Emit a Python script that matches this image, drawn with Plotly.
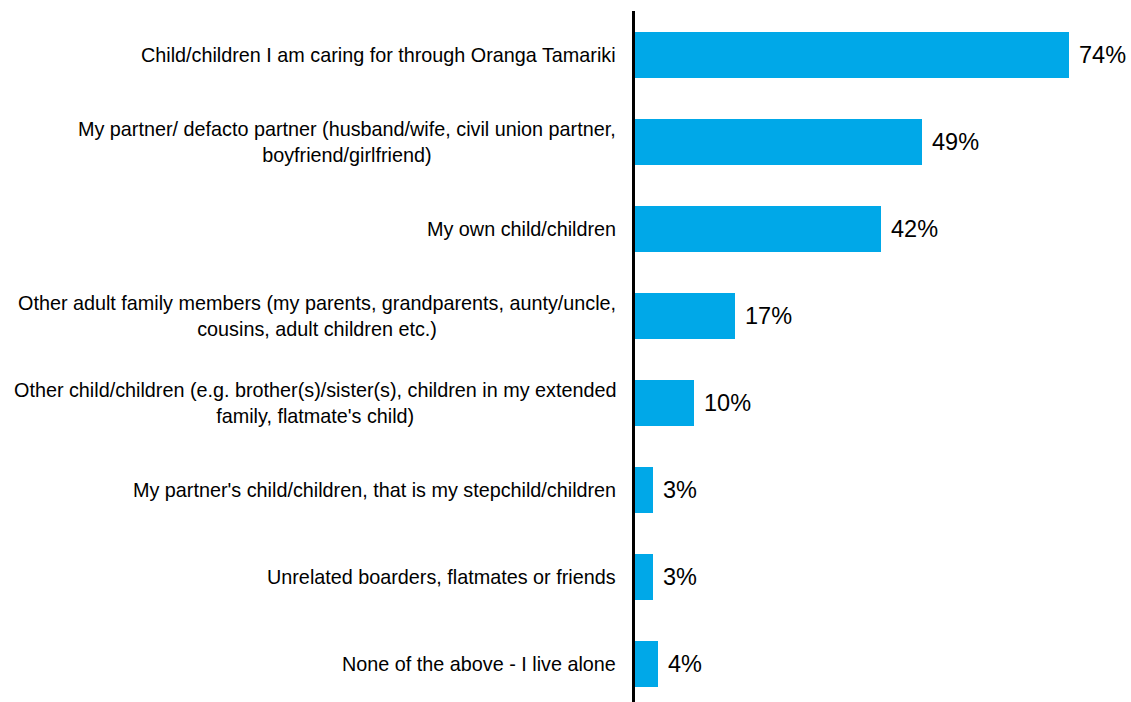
import plotly.graph_objects as go

categories = [
    "Child/children I am caring for through Oranga Tamariki",
    "My partner/ defacto partner (husband/wife, civil union partner,<br>boyfriend/girlfriend)",
    "My own child/children",
    "Other adult family members (my parents, grandparents, aunty/uncle,<br>cousins, adult children etc.)",
    "Other child/children (e.g. brother(s)/sister(s), children in my extended<br>family, flatmate's child)",
    "My partner's child/children, that is my stepchild/children",
    "Unrelated boarders, flatmates or friends",
    "None of the above - I live alone",
]
values = [74, 49, 42, 17, 10, 3, 3, 4]

BAR_COLOR = "#00A8E8"
FONT = "Liberation Sans, Arial, sans-serif"

fig = go.Figure()
fig.add_trace(
    go.Bar(
        x=values,
        y=categories,
        orientation="h",
        marker=dict(color=BAR_COLOR, line=dict(width=0)),
        width=0.535,
        hoverinfo="skip",
    )
)

annotations = []
# category labels, right-aligned to the axis, centred line by line
for cat in categories:
    annotations.append(
        dict(
            x=0, xref="paper", y=cat, yref="y",
            text=cat, showarrow=False,
            xanchor="right", yanchor="middle", align="center",
            xshift=-17,
            font=dict(family=FONT, size=19.8, color="#000000"),
        )
    )
# value labels just beyond each bar end
for cat, v in zip(categories, values):
    annotations.append(
        dict(
            x=v, xref="x", y=cat, yref="y",
            text=f"{v}%", showarrow=False,
            xanchor="left", yanchor="middle",
            xshift=8,
            font=dict(family=FONT, size=23.5, color="#000000"),
        )
    )

fig.update_layout(
    width=1131,
    height=702,
    margin=dict(l=635, r=20, t=11, b=0, pad=0),
    paper_bgcolor="white",
    plot_bgcolor="white",
    showlegend=False,
    bargap=0,
    annotations=annotations,
    xaxis=dict(
        range=[0, 81.2],
        showgrid=False, zeroline=False, showline=False,
        showticklabels=False, ticks="",
    ),
    yaxis=dict(
        type="category",
        categoryorder="array",
        categoryarray=categories,
        range=[7.437, -0.506],
        showgrid=False, zeroline=False,
        showline=True, linecolor="#000000", linewidth=3,
        showticklabels=False, ticks="",
    ),
)

fig.write_html("out.html")
